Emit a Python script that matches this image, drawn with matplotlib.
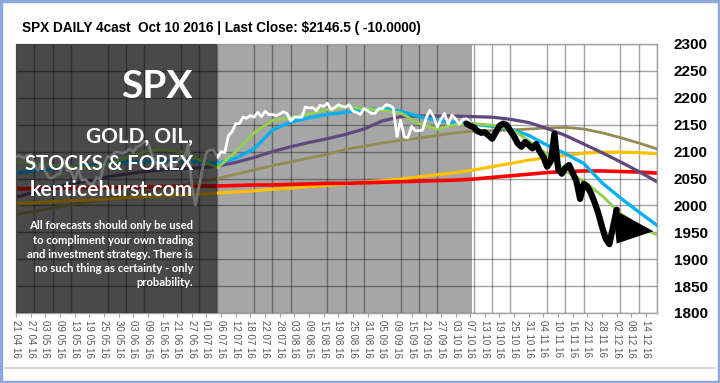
import numpy as np
import matplotlib
matplotlib.use("Agg")
import matplotlib.pyplot as plt
from matplotlib.patches import Rectangle
from matplotlib.lines import Line2D

# ---------------- data ----------------
title_text = "SPX DAILY 4cast  Oct 10 2016 | Last Close: $2146.5 ( -10.0000)"

date_labels = ["21 04 16", "27 04 16", "03 05 16", "09 05 16", "13 05 16", "19 05 16",
               "25 05 16", "30 05 16", "03 06 16", "09 06 16", "15 06 16", "21 06 16",
               "27 06 16", "01 07 16", "06 07 16", "12 07 16", "18 07 16", "22 07 16",
               "28 07 16", "03 08 16", "09 08 16", "15 08 16", "19 08 16", "25 08 16",
               "31 08 16", "05 09 16", "09 09 16", "15 09 16", "21 09 16", "27 09 16",
               "03 10 16", "07 10 16", "13 10 16", "19 10 16", "25 10 16", "31 10 16",
               "04 11 16", "10 11 16", "16 11 16", "22 11 16", "28 11 16", "02 12 16",
               "08 12 16", "14 12 16"]

y_ticks = [1800, 1850, 1900, 1950, 2000, 2050, 2100, 2150, 2200, 2250, 2300]

# actual closes (white line), one per session
close_actual = [2091, 2092, 2088, 2092, 2095, 2076, 2065, 2081, 2063, 2051,
                2051, 2057, 2059, 2084, 2065, 2064, 2047, 2067, 2047, 2048,
                2040, 2040, 2052, 2048, 2076, 2091, 2090, 2099, 2099, 2097,
                2099, 2105, 2099, 2109, 2112, 2119, 2116, 2096, 2079, 2075,
                2072, 2072, 2078, 2071, 2083, 2089, 2086, 2113, 2037, 2001,
                2036, 2071, 2099, 2103, 2103, 2089, 2100, 2098, 2130, 2137,
                2152, 2152, 2164, 2162, 2167, 2164, 2173, 2165, 2175, 2169,
                2169, 2167, 2170, 2174, 2171, 2157, 2164, 2164, 2164, 2183,
                2181, 2182, 2176, 2186, 2184, 2190, 2178, 2182, 2187, 2184,
                2183, 2187, 2175, 2173, 2169, 2180, 2176, 2171, 2171, 2180,
                2180, 2187, 2186, 2181, 2128, 2159, 2127, 2126, 2147, 2139,
                2139, 2140, 2163, 2177, 2165, 2146, 2160, 2171, 2151, 2168,
                2161, 2151, 2160, 2161, 2154]

# forecast (black line), starting at session 123
forecast_start = 123
forecast = [2152, 2148, 2145, 2138, 2135, 2136, 2130, 2124, 2136, 2148,
            2152, 2149, 2138, 2128, 2115, 2109, 2118, 2112, 2106, 2114,
            2100, 2090, 2072, 2082, 2133, 2068, 2059, 2070, 2075, 2060,
            2045, 2012, 2040, 2035, 2022, 2005, 1985, 1960, 1938, 1928,
            1960, 1992]

# forecast arrow head (session, value)
arrow_x = [163, 174, 164]
arrow_y = [1993, 1952, 1929]

# moving averages sampled every 5 sessions (0, 5, ..., 175)
ma_green = [2080, 2078, 2075, 2072, 2070, 2075, 2088, 2100, 2105, 2100,
            2085, 2070, 2100, 2135, 2158, 2163, 2170, 2178, 2183, 2180,
            2177, 2172, 2152, 2142, 2150, 2152, 2149, 2143, 2120, 2095,
            2064, 2045, 2018, 1985, 1962, 1945]
ma_cyan = [2060, 2064, 2068, 2071, 2074, 2078, 2080, 2082, 2083, 2083,
           2081, 2078, 2088, 2105, 2140, 2155, 2163, 2169, 2173, 2178,
           2180, 2175, 2165, 2158, 2154, 2151, 2147, 2142, 2130, 2112,
           2096, 2078, 2042, 2014, 1988, 1963]
ma_purple = [2015, 2025, 2033, 2040, 2046, 2053, 2058, 2063, 2066, 2068,
             2070, 2073, 2080, 2089, 2100, 2109, 2117, 2124, 2132, 2142,
             2157, 2165, 2166, 2166, 2166, 2165, 2164, 2160, 2154, 2143,
             2130, 2114, 2098, 2081, 2063, 2044]
ma_olive = [1983, 1989, 1995, 2001, 2007, 2013, 2019, 2025, 2032, 2038,
            2044, 2050, 2058, 2066, 2074, 2081, 2088, 2095, 2104, 2110,
            2116, 2121, 2125, 2130, 2135, 2138, 2139, 2140, 2142, 2144,
            2145, 2142, 2135, 2126, 2116, 2105]
ma_yellow = [2003, 2005, 2007, 2009, 2010, 2012, 2014, 2016, 2018, 2019,
             2021, 2023, 2025, 2027, 2030, 2032, 2035, 2037, 2040, 2043,
             2046, 2049, 2053, 2057, 2061, 2066, 2072, 2078, 2084, 2089,
             2093, 2097, 2099, 2099, 2098, 2096]
ma_red = [2031, 2031, 2032, 2032, 2033, 2033, 2034, 2034, 2035, 2035,
          2036, 2036, 2037, 2038, 2038, 2039, 2040, 2041, 2041, 2042,
          2043, 2044, 2045, 2046, 2047, 2049, 2052, 2055, 2058, 2061,
          2063, 2064, 2064, 2063, 2062, 2060]

overlay_lines = ["All forecasts should only be used",
                 "to compliment your own trading",
                 "and investment strategy. There is",
                 "no such thing as certainty - only",
                 "probability."]

# ---------------- layout ----------------
W, H = 720, 383
def fx(px):
    return px / W
def fy(py):
    return 1 - py / H

n_sessions = 176
ma_pos = np.arange(0, n_sessions, 5)
label_pos = np.arange(len(date_labels)) * 4
grid_pos = np.arange(0, n_sessions, 5)
hist_end = 124.5
overlay_end = 55

fig = plt.figure(figsize=(7.2, 3.83), dpi=100)
fig.patch.set_facecolor("white")
ax = fig.add_axes([fx(16), fy(313), fx(657) - fx(16), fy(44) - fy(313)])
ax.set_xlim(0, n_sessions - 1)
ax.set_ylim(1800, 2300)
ax.set_facecolor("white")

ax.axvspan(0, hist_end, color="#a6a6a6", lw=0, zorder=0)

# grid
ax.set_xticks(label_pos)
ax.set_xticklabels(date_labels, rotation=-90, fontsize=7, color="#555555",
                   family=["Liberation Sans", "DejaVu Sans"])
ax.set_xticks(grid_pos, minor=True)
ax.tick_params(axis="x", which="major", length=3, color="#a0a0a0", pad=2)
ax.tick_params(axis="x", which="minor", length=0)
ax.grid(True, which="minor", axis="x", color="black", alpha=0.36, lw=1.0, zorder=1)
ax.set_yticks(y_ticks)
ax.grid(True, which="major", axis="y", color="black", alpha=0.36, lw=1.0, zorder=1)
ax.yaxis.tick_right()
ax.tick_params(axis="y", length=0, pad=12, labelsize=11)
for lbl in ax.get_yticklabels():
    lbl.set_fontweight("bold")
    lbl.set_family(["Liberation Sans", "DejaVu Sans"])
ax.set_axisbelow(True)
for sp in ax.spines.values():
    sp.set_color("#a0a0a0")
    sp.set_linewidth(1)

# moving averages
ax.plot(ma_pos, ma_olive, color="#948a54", lw=2.0, zorder=2)
ax.plot(ma_pos, ma_yellow, color="#ffc000", lw=2.3, zorder=2)
ax.plot(ma_pos, ma_red, color="#ff0000", lw=2.6, zorder=2)
ax.plot(ma_pos, ma_purple, color="#5f497a", lw=2.3, zorder=2)
ax.plot(ma_pos, ma_cyan, color="#00b0f0", lw=2.4, zorder=2)
ax.plot(ma_pos, ma_green, color="#92d050", lw=2.1, zorder=2)

# actual closes
ax.plot(np.arange(len(close_actual)), close_actual, color="white", lw=2.0, zorder=3)

# forecast
ax.plot(forecast_start + np.arange(len(forecast)), forecast, color="black", lw=4.5,
        solid_joinstyle="round", solid_capstyle="round", zorder=4)
ax.fill(arrow_x, arrow_y, color="black", lw=0, zorder=4)

# dark overlay box
ax.axvspan(0, overlay_end, color="black", alpha=0.56, lw=0, zorder=5)

# overlay texts
tf = ["Lato", "DejaVu Sans"]
fig.text(fx(193), fy(86), "SPX", ha="right", va="center", color="white",
         fontsize=28, fontweight="bold", family=tf, zorder=10)
fig.text(fx(193), fy(137), "GOLD, OIL,", ha="right", va="center", color="white",
         fontsize=15, fontweight="bold", family=tf, zorder=10)
fig.text(fx(193), fy(164), "STOCKS & FOREX", ha="right", va="center", color="white",
         fontsize=14.6, fontweight="bold", family=tf, zorder=10)
fig.text(fx(193), fy(190), "kenticehurst.com", ha="right", va="center", color="white",
         fontsize=15.2, fontweight="bold", family=tf, zorder=10)
for i, line in enumerate(overlay_lines):
    fig.text(fx(193), fy(226 + 14 * i), line, ha="right", va="center", color="white",
             fontsize=8.1, fontweight="bold", family=tf, zorder=10)

# title
fig.text(fx(22), fy(28), title_text, ha="left", va="center", color="black",
         fontsize=9.8, fontweight="bold",
         family=["Liberation Sans Narrow", "Liberation Sans", "DejaVu Sans"])

# outer frame decorations
fig.add_artist(Line2D([fx(5), fx(715)], [fy(368), fy(368)], color="#cfcfcf", lw=1.2))
fig.add_artist(Rectangle((0.001, 0.002), 0.998, 0.996, transform=fig.transFigure,
                         fill=False, ec="#8eaadb", lw=2.5))

fig.savefig("out.png", dpi=100)
